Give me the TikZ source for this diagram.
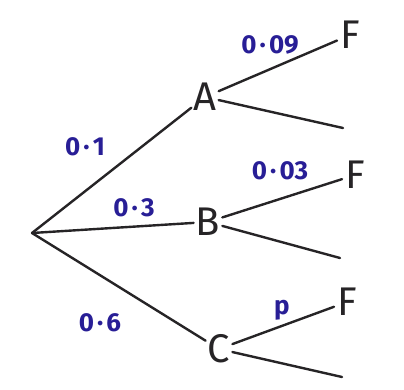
\documentclass[tikz,border=0pt]{standalone}
\usepackage{fontspec}
\setmainfont{Fira Sans}
\definecolor{ink}{RGB}{38,36,38}
\definecolor{pen}{RGB}{40,30,150}
\newcommand{\hdot}{\kern0.12em·\kern0.12em}
\begin{document}
\begin{tikzpicture}[x=1pt,y=-1pt,
  branch/.style={draw=ink,line width=2.4pt,line cap=round},
  event/.style={text=ink,font=\fontsize{40}{40}\selectfont,inner sep=2pt},
  prob/.style={text=pen,font=\bfseries\fontsize{26}{26}\selectfont,inner sep=0pt}]
\useasboundingbox[fill=white] (0,0) rectangle (404,389);
\coordinate (root) at (32,233);
\node[event] (A) at (205,97) {A};
\node[event] (B) at (208,222) {B};
\node[event] (C) at (219,349) {C};
\node[event,inner sep=3pt] (F1) at (350,35) {F};
\node[event,inner sep=3pt] (F2) at (355,175) {F};
\node[event,inner sep=3pt] (F3) at (347,302) {F};
\coordinate (a2) at (343,128);
\coordinate (b2) at (340,258);
\coordinate (c2) at (342,377);
\draw[branch] (root) -- (A);
\draw[branch] (root) -- (B);
\draw[branch] (root) -- (C);
\draw[branch] (A) -- (F1);
\draw[branch] (A) -- (a2);
\draw[branch] (B) -- (F2);
\draw[branch] (B) -- (b2);
\draw[branch] (C) -- (F3);
\draw[branch] (C) -- (c2);
\node[prob] (pA) at (85,147) {0\hdot1};
\node[prob] (pB) at (134,208) {0\hdot3};
\node[prob] (pC) at (100,323) {0\hdot6};
\node[prob] (pAF) at (270,45) {0\hdot09};
\node[prob] (pBF) at (280,171) {0\hdot03};
\node[prob] (pCF) at (282,310) {p};
\end{tikzpicture}
\end{document}
